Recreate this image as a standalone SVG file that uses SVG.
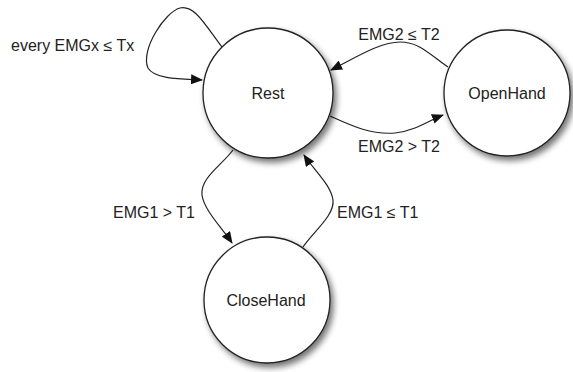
<svg xmlns="http://www.w3.org/2000/svg" width="573" height="372" viewBox="0 0 573 372">
<style>
.node{fill:#fff;stroke:#222;stroke-width:1.3;}
.lbl{font-family:"Liberation Sans",Arial,sans-serif;font-size:16px;fill:#222;}
.edge{fill:none;stroke:#222;stroke-width:1.2;marker-end:url(#ah);}
</style>
<defs>
<marker id="ah" markerWidth="12" markerHeight="10" refX="11" refY="5" orient="auto" markerUnits="userSpaceOnUse">
<path d="M0,0 L12,5 L0,10 Z" fill="#111"/>
</marker>
<filter id="sh" x="-20%" y="-20%" width="150%" height="150%">
<feGaussianBlur in="SourceAlpha" stdDeviation="3"/>
<feOffset dx="3" dy="4" result="b"/>
<feComponentTransfer><feFuncA type="linear" slope="0.55"/></feComponentTransfer>
<feMerge><feMergeNode/><feMergeNode in="SourceGraphic"/></feMerge>
</filter>
</defs>
<rect width="573" height="372" fill="#fff"/>
<g id="connectors">
<path class="edge" d="M222,47 C205,25 195,5 180,8 C165,12 140,50 148,68 C155,80 185,79 202,80"/>
<path class="edge" d="M448,67 C430,55 420,42 400,42 C380,42 355,58 331,70"/>
<path class="edge" d="M330,116 C350,125 370,135 395,133 C415,131 430,120 443,115"/>
<path class="edge" d="M233,150 C222,165 200,178 202,195 C204,210 222,228 232,243"/>
<path class="edge" d="M303,247 C313,232 335,215 333,200 C331,185 314,170 304,155"/>
</g>
<g id="Rest"><circle class="node" cx="268" cy="93" r="65" filter="url(#sh)"/><text class="lbl" x="268" y="99" text-anchor="middle">Rest</text></g>
<g id="OpenHand"><circle class="node" cx="507" cy="93" r="63" filter="url(#sh)"/><text class="lbl" x="507" y="99" text-anchor="middle">OpenHand</text></g>
<g id="CloseHand"><circle class="node" cx="267" cy="300" r="63" filter="url(#sh)"/><text class="lbl" x="266" y="306" text-anchor="middle">CloseHand</text></g>
<g id="labels">
<text class="lbl" x="11" y="51">every EMGx ≤ Tx</text>
<text class="lbl" x="399" y="40" text-anchor="middle">EMG2 ≤ T2</text>
<text class="lbl" x="399" y="152" text-anchor="middle">EMG2 &gt; T2</text>
<text class="lbl" x="154" y="218" text-anchor="middle">EMG1 &gt; T1</text>
<text class="lbl" x="337" y="218">EMG1 ≤ T1</text>
</g>
</svg>
